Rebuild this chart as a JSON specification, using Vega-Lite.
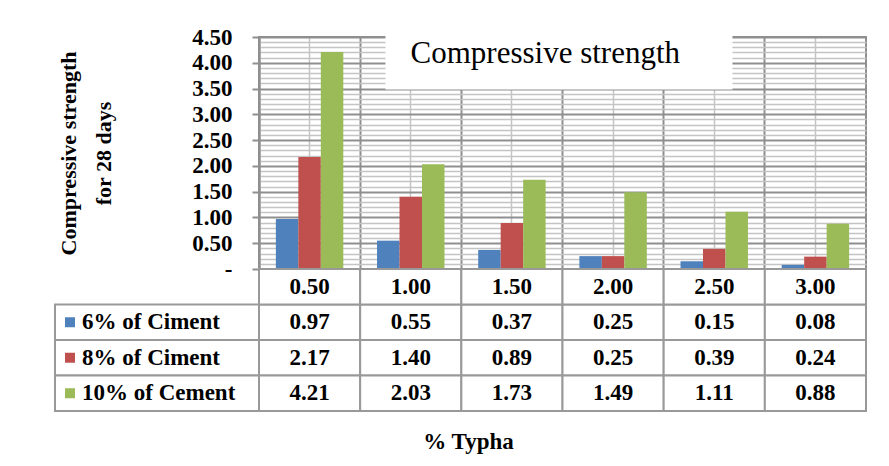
{
  "$schema": "https://vega.github.io/schema/vega-lite/v6.json",
  "background": "white",
  "padding": {"left": 54, "top": 25, "right": 5, "bottom": 5},
  "config": {
    "font": "Liberation Serif",
    "view": {"stroke": null}
  },
  "datasets": {
    "strength": [
      {"typha": "0.50", "series": "6% of Ciment", "value": 0.97},
      {"typha": "0.50", "series": "8% of Ciment", "value": 2.17},
      {"typha": "0.50", "series": "10% of Cement", "value": 4.21},
      {"typha": "1.00", "series": "6% of Ciment", "value": 0.55},
      {"typha": "1.00", "series": "8% of Ciment", "value": 1.40},
      {"typha": "1.00", "series": "10% of Cement", "value": 2.03},
      {"typha": "1.50", "series": "6% of Ciment", "value": 0.37},
      {"typha": "1.50", "series": "8% of Ciment", "value": 0.89},
      {"typha": "1.50", "series": "10% of Cement", "value": 1.73},
      {"typha": "2.00", "series": "6% of Ciment", "value": 0.25},
      {"typha": "2.00", "series": "8% of Ciment", "value": 0.25},
      {"typha": "2.00", "series": "10% of Cement", "value": 1.49},
      {"typha": "2.50", "series": "6% of Ciment", "value": 0.15},
      {"typha": "2.50", "series": "8% of Ciment", "value": 0.39},
      {"typha": "2.50", "series": "10% of Cement", "value": 1.11},
      {"typha": "3.00", "series": "6% of Ciment", "value": 0.08},
      {"typha": "3.00", "series": "8% of Ciment", "value": 0.24},
      {"typha": "3.00", "series": "10% of Cement", "value": 0.88}
    ]
  },
  "columns": 2,
  "spacing": 0,
  "bounds": "flush",
  "concat": [
    {
      "width": 204,
      "height": 232,
      "data": {"values": [{}]},
      "mark": {"type": "text"},
      "encoding": {"text": {"value": ""}}
    },
    {
      "width": 607,
      "height": 232,
      "view": {"stroke": "#8f8f8f", "strokeWidth": 2},
      "resolve": {"scale": {"x": "independent"}, "axis": {"x": "independent", "y": "independent"}},
      "layer": [
        {
          "data": {"name": "strength"},
          "mark": {"type": "bar", "opacity": 0},
          "encoding": {
            "x": {"field": "typha", "type": "nominal", "scale": {"type": "band", "paddingInner": 0, "paddingOuter": 0},
              "axis": {"orient": "bottom", "bandPosition": 0.5, "grid": true, "gridColor": "#c4c4c4", "gridWidth": 1.5, "labels": false, "ticks": false, "domain": false, "title": null}},
            "y": {"field": "value", "type": "quantitative", "stack": null, "scale": {"domain": [0, 4.5], "nice": false},
              "axis": {"orient": "right", "values": [0.1,0.2,0.3,0.4,0.6,0.7,0.8,0.9,1.1,1.2,1.3,1.4,1.6,1.7,1.8,1.9,2.1,2.2,2.3,2.4,2.6,2.7,2.8,2.9,3.1,3.2,3.3,3.4,3.6,3.7,3.8,3.9,4.1,4.2,4.3,4.4],
                "grid": true, "gridColor": "#c4c4c4", "gridWidth": 1.5, "labels": false, "ticks": false, "domain": false, "title": null}}
          }
        },
        {
          "data": {"name": "strength"},
          "mark": {"type": "bar"},
          "encoding": {
            "x": {"field": "typha", "type": "nominal", "scale": {"type": "band", "paddingInner": 0, "paddingOuter": 0},
              "axis": {"orient": "bottom", "bandPosition": 0, "grid": true, "gridColor": "#8f8f8f", "gridWidth": 2, "labels": false, "ticks": false, "domain": true, "domainColor": "#8f8f8f", "domainWidth": 2, "title": null}},
            "xOffset": {"field": "series", "type": "nominal", "sort": ["6% of Ciment", "8% of Ciment", "10% of Cement"], "scale": {"paddingInner": 0, "paddingOuter": 0.75}},
            "y": {"field": "value", "type": "quantitative", "stack": null, "scale": {"domain": [0, 4.5], "nice": false},
              "axis": {"values": [0, 0.5, 1, 1.5, 2, 2.5, 3, 3.5, 4, 4.5],
                "labelExpr": "datum.value == 0 ? '-' : format(datum.value, '.2f')",
                "labelFontSize": 23, "labelFontWeight": "bold", "labelColor": "black", "labelPadding": 20,
                "tickSize": 7, "tickColor": "#8f8f8f", "tickWidth": 2,
                "domain": true, "domainColor": "#8f8f8f", "domainWidth": 2,
                "grid": true, "gridColor": "#8f8f8f", "gridWidth": 2,
                "title": ["Compressive strength", "for 28 days"], "titleFontSize": 22, "titleFontWeight": "bold", "titleColor": "black", "titlePadding": 76, "titleLineHeight": 35}},
            "color": {"field": "series", "type": "nominal", "sort": ["6% of Ciment", "8% of Ciment", "10% of Cement"],
              "scale": {"range": ["#4F81BD", "#C0504D", "#9BBB59"]}, "legend": null}
          }
        },
        {
          "data": {"values": [{}]},
          "mark": {"type": "rect", "fill": "white", "stroke": "white", "strokeWidth": 2},
          "encoding": {
            "x": {"datum": 1.26, "type": "quantitative", "scale": {"domain": [0, 6]}, "axis": null},
            "x2": {"datum": 4.67},
            "y": {"datum": 3.5, "type": "quantitative", "scale": {"domain": [0, 4.5], "nice": false}, "axis": null},
            "y2": {"datum": 4.5}
          }
        },
        {
          "data": {"values": [{}]},
          "mark": {"type": "text", "fontSize": 31, "baseline": "alphabetic", "align": "center", "color": "black"},
          "encoding": {
            "x": {"datum": 2.83, "type": "quantitative", "scale": {"domain": [0, 6]}, "axis": null},
            "y": {"datum": 4.0, "type": "quantitative", "scale": {"domain": [0, 4.5], "nice": false}, "axis": null},
            "text": {"value": "Compressive strength"}
          }
        }
      ]
    },
    {
      "width": 204,
      "height": 142,
      "data": {"name": "strength"},
      "transform": [{"aggregate": [{"op": "count", "as": "n"}], "groupby": ["series"]}],
      "encoding": {
        "y": {"field": "series", "type": "nominal",
          "scale": {"type": "band", "domain": ["% Typha", "6% of Ciment", "8% of Ciment", "10% of Cement"], "paddingInner": 0, "paddingOuter": 0}, "axis": null}
      },
      "layer": [
        {"mark": {"type": "rect", "fill": "white", "stroke": "#999999", "strokeWidth": 2}},
        {
          "mark": {"type": "square", "size": 100, "filled": true, "opacity": 1, "xOffset": 15},
          "encoding": {
            "x": {"value": 0},
            "color": {"field": "series", "type": "nominal", "sort": ["6% of Ciment", "8% of Ciment", "10% of Cement"],
              "scale": {"range": ["#4F81BD", "#C0504D", "#9BBB59"]}, "legend": null}
          }
        },
        {
          "mark": {"type": "text", "align": "left", "dx": 27, "fontSize": 23, "fontWeight": "bold", "color": "black"},
          "encoding": {"x": {"value": 0}, "text": {"field": "series"}}
        }
      ]
    },
    {
      "width": 607,
      "height": 142,
      "data": {"name": "strength"},
      "encoding": {
        "x": {"field": "typha", "type": "nominal", "scale": {"paddingInner": 0, "paddingOuter": 0},
          "axis": {"labels": false, "ticks": false, "domain": false, "grid": false, "title": "% Typha", "titleFontSize": 23, "titleFontWeight": "bold", "titleColor": "black", "titlePadding": 19, "titleX": 209}}
      },
      "layer": [
        {
          "mark": {"type": "rect", "fill": "white", "stroke": "#999999", "strokeWidth": 2},
          "encoding": {"y": {"field": "series", "type": "nominal",
            "scale": {"type": "band", "domain": ["% Typha", "6% of Ciment", "8% of Ciment", "10% of Cement"], "paddingInner": 0, "paddingOuter": 0}, "axis": null}}
        },
        {
          "mark": {"type": "text", "fontSize": 23, "fontWeight": "bold", "color": "black"},
          "encoding": {
            "y": {"field": "series", "type": "nominal", "axis": null},
            "text": {"field": "value", "type": "quantitative", "format": ".2f"}
          }
        },
        {
          "transform": [{"aggregate": [{"op": "count", "as": "n"}], "groupby": ["typha"]}],
          "mark": {"type": "rect", "fill": "white", "stroke": "#999999", "strokeWidth": 2},
          "encoding": {"y": {"datum": "% Typha", "type": "nominal", "axis": null}}
        },
        {
          "transform": [{"aggregate": [{"op": "count", "as": "n"}], "groupby": ["typha"]}],
          "mark": {"type": "text", "fontSize": 23, "fontWeight": "bold", "color": "black"},
          "encoding": {"y": {"datum": "% Typha", "type": "nominal", "axis": null}, "text": {"field": "typha"}}
        }
      ]
    }
  ]
}
